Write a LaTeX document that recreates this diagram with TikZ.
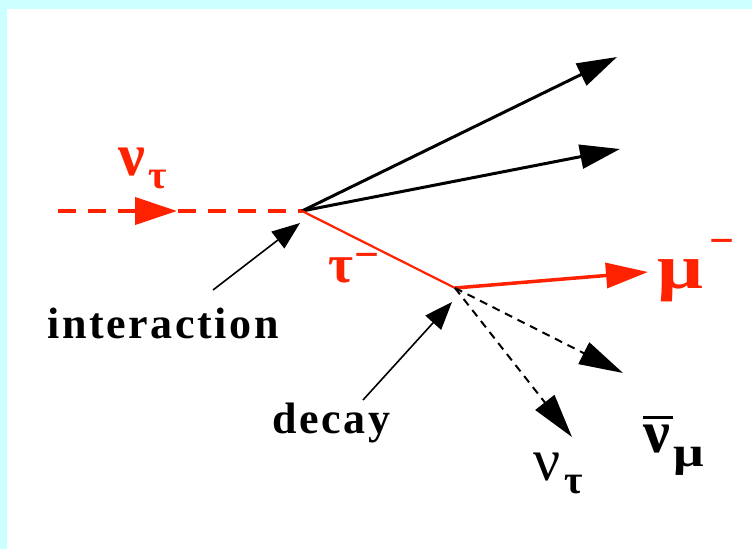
\documentclass[tikz,border=0pt]{standalone}
\usepackage{fontspec}
\setmainfont{Liberation Serif}
\usepackage{graphicx}
\usepackage{tikz}
\usetikzlibrary{arrows.meta}
\definecolor{TauRed}{HTML}{FF2200}
\definecolor{FrameCyan}{HTML}{CCFFFF}
\newcommand{\lowsub}[2]{\raisebox{-#1}{\fontsize{40}{40}\selectfont #2}}
\newcommand{\highsup}[2]{\raisebox{#1}{\fontsize{44}{44}\selectfont #2}}
\newcommand{\widemu}{\scalebox{1.35}[1.05]{μ}}

\begin{document}
\begin{tikzpicture}[x=1pt,y=-1pt,
  track/.style={line width=3pt,-{Triangle[length=40pt,width=24pt]}},
  redtrack/.style={TauRed,line width=3.5pt,-{Triangle[length=42pt,width=25pt]}},
  nutrack/.style={line width=2pt,dash pattern=on 8pt off 6pt,-{Triangle[length=44pt,width=24pt]}},
  pointer/.style={line width=1.6pt,-{Triangle[length=28pt,width=21pt]}},
  word/.style={inner sep=0pt,anchor=base west,font=\bfseries\fontsize{44}{44}\selectfont\addfontfeatures{LetterSpace=6}},
  greek/.style={inner sep=0pt,anchor=base west,font=\bfseries\fontsize{60}{60}\selectfont}
]
  % frame
  \fill[FrameCyan] (0,0) rectangle (752,549);
  \fill[white] (7,9) rectangle (752,549);

  % vertices and free ends
  \coordinate (nuin) at (58,211);
  \coordinate (vtx) at (302,211);
  \coordinate (dcy) at (455,288);
  \coordinate (jetA) at (617,57);
  \coordinate (jetB) at (620,149);
  \coordinate (muend) at (648,272);
  \coordinate (nbend) at (623,373);
  \coordinate (ntend) at (572,437);
  \coordinate (headL) at (135,211);
  \coordinate (headR) at (177,211);
  \coordinate (intfoot) at (213,290);
  \coordinate (inttip) at (300,223);
  \coordinate (dcyfoot) at (363,400);
  \coordinate (dcytip) at (452,302);

  % incoming tau neutrino
  \draw[TauRed,line width=4pt,dash pattern=on 18pt off 12pt] (nuin) -- (vtx);
  \draw[TauRed,line width=4pt,-{Triangle[length=42pt,width=27pt]}] (headL) -- (headR);

  % hadrons and tau
  \draw[track] (vtx) -- (jetA);
  \draw[track] (vtx) -- (jetB);
  \draw[TauRed,line width=2.2pt] (vtx) -- (dcy);

  % decay products
  \draw[redtrack] (dcy) -- (muend);
  \draw[nutrack] (dcy) -- (nbend);
  \draw[nutrack] (dcy) -- (ntend);

  % labels
  \node[greek,TauRed] (nutauin) at (118,175) {ν\kern3pt\lowsub{13pt}{τ}};
  \node[greek,TauRed,font=\bfseries\fontsize{54}{54}\selectfont] (taulbl) at (328,282) {τ\kern1pt\highsup{13pt}{−}};
  \node[greek,TauRed] (mulbl) at (657,288) {\widemu\kern6pt\highsup{33pt}{−}};
  \node[greek] (numubar) at (643,452) {\makebox[0pt][l]{\raisebox{33pt}{\rule{30pt}{3pt}}}ν\kern3pt\lowsub{14pt}{\widemu}};
  \node[greek,font=\fontsize{60}{60}\selectfont] (nutauout) at (533,480) {ν\kern4pt\lowsub{13pt}{\bfseries τ}};

  \node[word] (interaction) at (47,338) {interaction};
  \node[word] (decay) at (272,433) {decay};
  \draw[pointer] (intfoot) -- (inttip);
  \draw[pointer] (dcyfoot) -- (dcytip);
\end{tikzpicture}
\end{document}
